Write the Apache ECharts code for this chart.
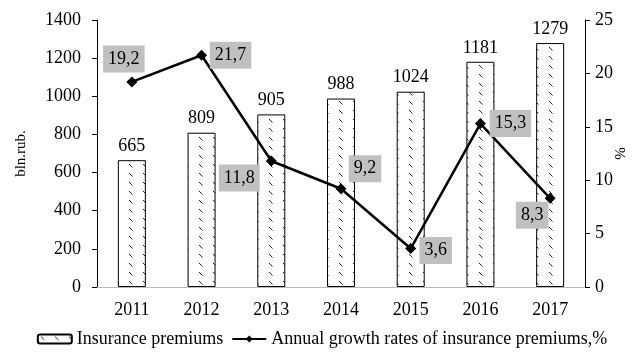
<!DOCTYPE html>
<html>
<head>
<meta charset="utf-8">
<script src="https://cdn.jsdelivr.net/npm/echarts@6/dist/echarts.min.js"></script>
<style>html,body{margin:0;padding:0;background:#fff}#chart{width:644px;height:354px}</style>
</head>
<body>
<div id="chart"></div>
<script>
const years = ['2011', '2012', '2013', '2014', '2015', '2016', '2017'];
const premiums = [665, 809, 905, 988, 1024, 1181, 1279];
const growthRates = [19.2, 21.7, 11.8, 9.2, 3.6, 15.3, 8.3];
const leftTicks = [0, 200, 400, 600, 800, 1000, 1200, 1400];
const rightTicks = [0, 5, 10, 15, 20, 25];
const seriesNames = ['Insurance premiums', 'Annual growth rates of insurance premiums,%'];

const FONT = '"Liberation Serif", "Times New Roman", serif';
const FS = 18;

function makePattern() {
  const c = document.createElement('canvas');
  c.width = 14; c.height = 9;
  const g = c.getContext('2d');
  g.fillStyle = '#fff';
  g.fillRect(0, 0, 14, 9);
  g.strokeStyle = '#222';
  g.lineWidth = 1;
  g.beginPath();
  g.moveTo(3, 2); g.lineTo(6.5, 5.5);
  g.stroke();
  return c;
}

// label placement (style only): [dx, dy] from the point centre
const labelOffsets = [[-8, -23], [29, 0], [-32, 17], [24, -20], [25, 2], [30, 0], [-18, 17]];

const chart = echarts.init(document.getElementById('chart'));
chart.setOption({
  animation: false,
  textStyle: { fontFamily: FONT, color: '#000' },
  grid: { left: 97, right: 59, top: 20, bottom: 67 },
  legend: {
    bottom: 1,
    left: 'center',
    itemGap: 8,
    itemWidth: 34,
    itemHeight: 9,
    textStyle: { fontFamily: FONT, fontSize: 18, color: '#000' },
    data: [
      { name: seriesNames[0] },
      { name: seriesNames[1] }
    ]
  },
  xAxis: [{
    type: 'category',
    data: years,
    axisLine: { lineStyle: { color: '#000', width: 1 } },
    axisTick: { length: 5, lineStyle: { color: '#000' } },
    axisLabel: { fontFamily: FONT, fontSize: FS, color: '#000', margin: 14 }
  }, {
    type: 'category',
    data: years,
    position: 'top',
    axisLine: { lineStyle: { color: '#bbb', width: 1 } },
    axisTick: { show: false },
    axisLabel: { show: false }
  }],
  yAxis: [{
    type: 'value',
    min: leftTicks[0],
    max: leftTicks[leftTicks.length - 1],
    interval: leftTicks[1] - leftTicks[0],
    name: 'bln.rub.',
    nameLocation: 'middle',
    nameRotate: 90,
    nameGap: 68,
    nameMoveOverlap: false,
    nameTextStyle: { fontFamily: FONT, fontSize: 15, color: '#000' },
    axisLine: { show: true, lineStyle: { color: '#000' } },
    axisTick: { show: true, length: 5, lineStyle: { color: '#000' } },
    splitLine: { show: false },
    axisLabel: { fontFamily: FONT, fontSize: FS, color: '#000', margin: 16, formatter: v => String(v) }
  }, {
    type: 'value',
    min: rightTicks[0],
    max: rightTicks[rightTicks.length - 1],
    interval: rightTicks[1] - rightTicks[0],
    name: '%',
    nameLocation: 'middle',
    nameRotate: -90,
    nameGap: 26,
    nameMoveOverlap: false,
    nameTextStyle: { fontFamily: FONT, fontSize: 15, color: '#000' },
    axisLine: { show: true, lineStyle: { color: '#000' } },
    axisTick: { show: true, length: 5, lineStyle: { color: '#000' } },
    splitLine: { show: false },
    axisLabel: { fontFamily: FONT, fontSize: FS, color: '#000', margin: 10 }
  }],
  series: [{
    name: seriesNames[0],
    type: 'bar',
    data: premiums,
    barWidth: 28,
    itemStyle: {
      color: { image: makePattern(), repeat: 'repeat' },
      borderColor: '#000',
      borderWidth: 1
    },
    label: {
      show: true,
      position: 'top',
      distance: 5,
      fontFamily: FONT,
      fontSize: FS,
      color: '#000'
    }
  }, {
    name: seriesNames[1],
    type: 'line',
    yAxisIndex: 1,
    data: growthRates.map((v, i) => ({
      value: v,
      label: { offset: labelOffsets[i] }
    })),
    symbol: 'diamond',
    symbolSize: 11,
    lineStyle: { color: '#000', width: 2.5 },
    itemStyle: { color: '#000' },
    z: 5,
    label: {
      show: true,
      position: 'inside',
      formatter: p => String(p.value).replace('.', ','),
      fontFamily: FONT,
      fontSize: FS,
      color: '#000',
      backgroundColor: '#c0c0c0',
      padding: [5, 5, 4, 5]
    }
  }]
});
</script>
</body>
</html>
